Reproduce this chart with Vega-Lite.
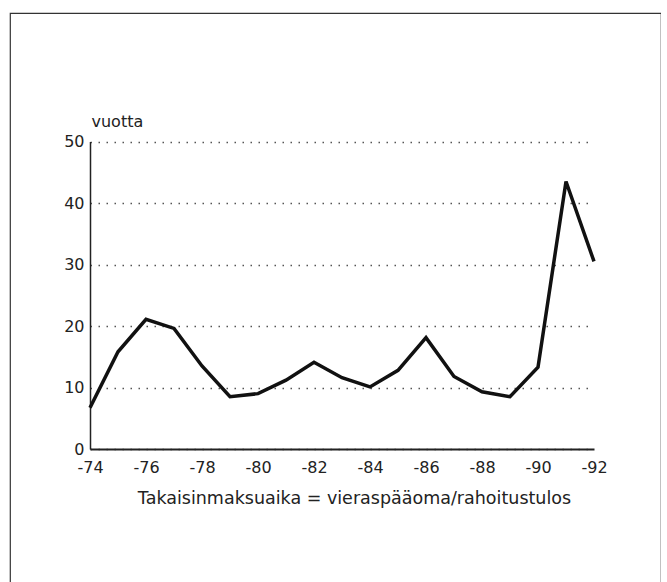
{
  "$schema": "https://vega.github.io/schema/vega-lite/v6.json",
  "autosize": "none",
  "width": 651,
  "height": 600,
  "padding": {"left": 10, "top": 13, "right": 0, "bottom": 0},
  "background": "white",
  "config": {
    "view": {"stroke": "#333", "strokeWidth": 1.2},
    "font": "DejaVu Sans"
  },
  "data": {
    "values": [
      {"vuosi": 74, "vuotta": 6.7},
      {"vuosi": 75, "vuotta": 15.8},
      {"vuosi": 76, "vuotta": 21.1},
      {"vuosi": 77, "vuotta": 19.6},
      {"vuosi": 78, "vuotta": 13.5},
      {"vuosi": 79, "vuotta": 8.5},
      {"vuosi": 80, "vuotta": 9.0},
      {"vuosi": 81, "vuotta": 11.2},
      {"vuosi": 82, "vuotta": 14.1},
      {"vuosi": 83, "vuotta": 11.6},
      {"vuosi": 84, "vuotta": 10.1},
      {"vuosi": 85, "vuotta": 12.8},
      {"vuosi": 86, "vuotta": 18.1},
      {"vuosi": 87, "vuotta": 11.8},
      {"vuosi": 88, "vuotta": 9.3},
      {"vuosi": 89, "vuotta": 8.5},
      {"vuosi": 90, "vuotta": 13.3},
      {"vuosi": 91, "vuotta": 43.5},
      {"vuosi": 92, "vuotta": 30.5}
    ]
  },
  "mark": {"type": "line", "color": "#111", "strokeWidth": 3.5, "strokeJoin": "miter"},
  "encoding": {
    "x": {
      "field": "vuosi",
      "type": "quantitative",
      "scale": {"domain": [74, 92], "range": [80, 584], "nice": false, "zero": false},
      "axis": {
        "orient": "bottom",
        "offset": -164,
        "values": [74, 76, 78, 80, 82, 84, 86, 88, 90, 92],
        "labelExpr": "'-' + datum.value",
        "grid": false,
        "ticks": false,
        "domainColor": "#222",
        "domainWidth": 2,
        "labelColor": "#222",
        "labelFontSize": 16,
        "labelPadding": 10,
        "labelFlush": false,
        "title": "Takaisinmaksuaika = vieraspääoma/rahoitustulos",
        "titleFontSize": 17.5,
        "titleFontWeight": "normal",
        "titleColor": "#222",
        "titleAlign": "center",
        "titleBaseline": "alphabetic",
        "titleX": 344,
        "titleY": 54
      }
    },
    "y": {
      "field": "vuotta",
      "type": "quantitative",
      "scale": {"domain": [0, 50], "range": [436, 128.5], "nice": false},
      "axis": {
        "orient": "left",
        "offset": -80,
        "values": [0, 10, 20, 30, 40, 50],
        "ticks": false,
        "domainColor": "#222",
        "domainWidth": 1.5,
        "grid": true,
        "gridColor": "#555",
        "gridDash": [1.5, 6.5],
        "gridWidth": 1.3,
        "labelColor": "#222",
        "labelFontSize": 16,
        "labelPadding": 6,
        "title": "vuotta",
        "titleAngle": 0,
        "titleAlign": "left",
        "titleBaseline": "alphabetic",
        "titleX": 1,
        "titleY": 113,
        "titleFontSize": 16,
        "titleFontWeight": "normal",
        "titleColor": "#222"
      }
    }
  }
}
